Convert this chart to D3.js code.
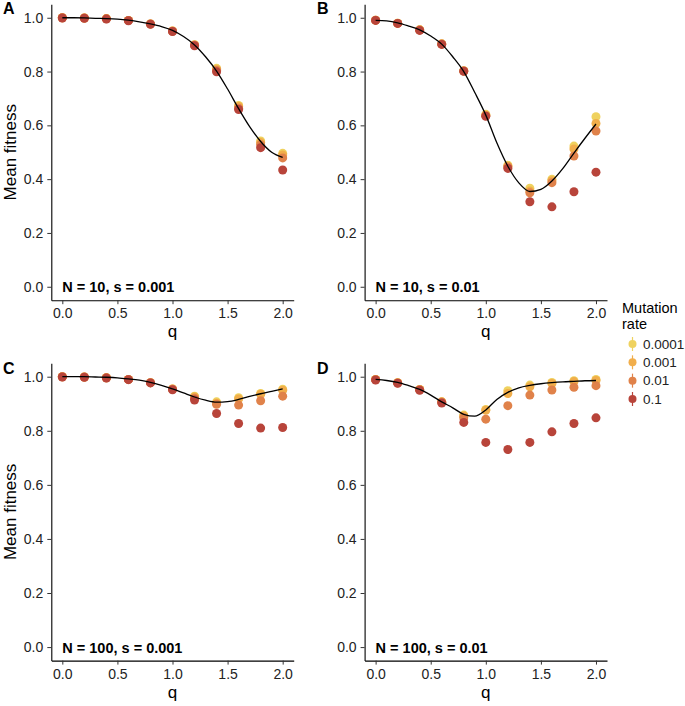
<!DOCTYPE html>
<html>
<head>
<meta charset="utf-8">
<script src="https://cdn.jsdelivr.net/npm/d3@7"></script>
<style>
  html, body { margin: 0; padding: 0; background: #fff; }
  svg { display: block; font-family: "Liberation Sans", Arial, Helvetica, sans-serif; }
</style>
</head>
<body>
<svg id="chart" width="685" height="706"></svg>
<script>
// ---- data ----
const qValues = [0, 0.2, 0.4, 0.6, 0.8, 1.0, 1.2, 1.4, 1.6, 1.8, 2.0];
const curveQ = [0,0.1,0.2,0.3,0.4,0.5,0.6,0.7,0.8,0.9,1.0,1.1,1.2,1.3,1.4,1.5,1.6,1.7,1.8,1.9,2.0];
const mutationRates = ["0.0001", "0.001", "0.01", "0.1"];
const rateColors = ["#EFD25F", "#F1AE4B", "#E0824A", "#B8443A"];
const yTicks = [0, 0.2, 0.4, 0.6, 0.8, 1.0];
const xTicks = [0, 0.5, 1.0, 1.5, 2.0];

// Panel A: N = 10, s = 0.001
const panelA_mu0001 = [1.000, 0.999, 0.997, 0.990, 0.977, 0.951, 0.900, 0.812, 0.674, 0.542, 0.496];
const panelA_mu001  = [1.000, 0.999, 0.997, 0.990, 0.977, 0.951, 0.899, 0.808, 0.670, 0.536, 0.490];
const panelA_mu01   = [1.000, 0.999, 0.996, 0.990, 0.977, 0.950, 0.898, 0.804, 0.664, 0.528, 0.479];
const panelA_mu1    = [0.999, 0.998, 0.995, 0.989, 0.976, 0.949, 0.896, 0.799, 0.659, 0.517, 0.434];
const panelA_curve  = [1.000, 1.000, 0.9995, 0.998, 0.997, 0.995, 0.991, 0.985, 0.977, 0.967, 0.953, 0.930, 0.899, 0.855, 0.802, 0.735, 0.662, 0.595, 0.540, 0.500, 0.481];

// Panel B: N = 10, s = 0.01
const panelB_mu0001 = [0.991, 0.980, 0.955, 0.903, 0.803, 0.641, 0.452, 0.366, 0.400, 0.523, 0.632];
const panelB_mu001  = [0.991, 0.980, 0.955, 0.902, 0.802, 0.638, 0.448, 0.356, 0.394, 0.512, 0.607];
const panelB_mu01   = [0.991, 0.979, 0.954, 0.902, 0.802, 0.636, 0.445, 0.349, 0.387, 0.486, 0.579];
const panelB_mu1    = [0.990, 0.979, 0.953, 0.901, 0.801, 0.634, 0.440, 0.316, 0.297, 0.353, 0.426];
const panelB_curve  = [0.990, 0.988, 0.981, 0.969, 0.955, 0.932, 0.902, 0.855, 0.800, 0.722, 0.638, 0.535, 0.448, 0.386, 0.354, 0.362, 0.393, 0.440, 0.497, 0.552, 0.605];

// Panel C: N = 100, s = 0.001
const panelC_mu0001 = [1.000, 0.999, 0.996, 0.990, 0.978, 0.955, 0.928, 0.907, 0.922, 0.938, 0.954];
const panelC_mu001  = [1.000, 0.999, 0.996, 0.990, 0.978, 0.955, 0.925, 0.902, 0.918, 0.935, 0.950];
const panelC_mu01   = [1.000, 0.999, 0.996, 0.990, 0.978, 0.954, 0.920, 0.898, 0.895, 0.911, 0.928];
const panelC_mu1    = [0.999, 0.998, 0.995, 0.989, 0.977, 0.952, 0.914, 0.864, 0.827, 0.810, 0.812];
const panelC_curve  = [1.000, 1.000, 1.000, 0.999, 0.998, 0.996, 0.992, 0.987, 0.979, 0.968, 0.955, 0.940, 0.925, 0.913, 0.906, 0.908, 0.916, 0.927, 0.937, 0.946, 0.955];

// Panel D: N = 100, s = 0.01
const panelD_mu0001 = [0.990, 0.978, 0.953, 0.907, 0.858, 0.879, 0.948, 0.969, 0.979, 0.985, 0.990];
const panelD_mu001  = [0.990, 0.978, 0.953, 0.907, 0.855, 0.876, 0.938, 0.963, 0.975, 0.982, 0.986];
const panelD_mu01   = [0.989, 0.977, 0.952, 0.906, 0.848, 0.843, 0.893, 0.932, 0.951, 0.961, 0.967];
const panelD_mu1    = [0.988, 0.976, 0.950, 0.903, 0.831, 0.757, 0.731, 0.757, 0.796, 0.827, 0.848];
const panelD_curve  = [0.990, 0.986, 0.979, 0.967, 0.953, 0.932, 0.907, 0.885, 0.861, 0.854, 0.877, 0.916, 0.942, 0.959, 0.968, 0.974, 0.978, 0.981, 0.983, 0.985, 0.986];

const panelLetters = ["A", "B", "C", "D"];
const panelLabels = ["N = 10, s = 0.001", "N = 10, s = 0.01", "N = 100, s = 0.001", "N = 100, s = 0.01"];
const panelSeries = [
  [panelA_mu0001, panelA_mu001, panelA_mu01, panelA_mu1],
  [panelB_mu0001, panelB_mu001, panelB_mu01, panelB_mu1],
  [panelC_mu0001, panelC_mu001, panelC_mu01, panelC_mu1],
  [panelD_mu0001, panelD_mu001, panelD_mu01, panelD_mu1]
];
const panelCurves = [panelA_curve, panelB_curve, panelC_curve, panelD_curve];

// ---- layout ----
const colX = [[51.3, 293.7], [364.6, 607.0]];
const rowY = [[4.3, 300.2], [363.2, 660.6]];

const svg = d3.select("#chart");
const textColor = "#222222";

panelLetters.forEach((letter, i) => {
  const col = i % 2, row = Math.floor(i / 2);
  const x = d3.scaleLinear().domain([-0.1, 2.1]).range(colX[col]);
  const y = d3.scaleLinear().domain([-0.05, 1.05]).range([rowY[row][1], rowY[row][0]]);
  const g = svg.append("g");

  // axes
  const yAxis = d3.axisLeft(y).tickValues(yTicks).tickFormat(d3.format(".1f"))
    .tickSize(4).tickPadding(4).tickSizeOuter(0);
  const xAxis = d3.axisBottom(x).tickValues(xTicks).tickFormat(d3.format(".1f"))
    .tickSize(4).tickPadding(4).tickSizeOuter(0);
  const ya = g.append("g").attr("transform", `translate(${colX[col][0]},0)`).call(yAxis);
  const xa = g.append("g").attr("transform", `translate(0,${rowY[row][1]})`).call(xAxis);
  [ya, xa].forEach(a => {
    a.select(".domain").attr("stroke", "#000").attr("stroke-width", 1.1);
    a.selectAll(".tick line").attr("stroke", "#333").attr("stroke-width", 1);
    a.selectAll(".tick text").attr("fill", textColor).style("font-size", "14px")
      .style("font-family", "'Liberation Sans', Arial, sans-serif");
  });

  // points (lowest rate first, highest on top)
  panelSeries[i].forEach((vals, k) => {
    g.append("g").selectAll("circle").data(vals).join("circle")
      .attr("cx", (d, j) => x(qValues[j]))
      .attr("cy", d => y(d))
      .attr("r", 4.5)
      .attr("fill", rateColors[k]);
  });

  // theory curve
  const line = d3.line().x((d, j) => x(curveQ[j])).y(d => y(d)).curve(d3.curveMonotoneX);
  g.append("path").datum(panelCurves[i]).attr("d", line)
    .attr("fill", "none").attr("stroke", "#000").attr("stroke-width", 1.3);

  // annotation
  g.append("text").attr("x", x(0)).attr("y", y(0) + 5.5)
    .style("font-size", "14.5px").style("font-weight", "bold").attr("fill", "#000")
    .text(panelLabels[i]);

  // panel letter
  g.append("text").attr("x", col === 0 ? 3 : 317).attr("y", row === 0 ? 14 : 374)
    .style("font-size", "16px").style("font-weight", "bold").attr("fill", "#000")
    .text(letter);

  // x title
  g.append("text").attr("x", (colX[col][0] + colX[col][1]) / 2).attr("y", rowY[row][1] + 37)
    .attr("text-anchor", "middle").style("font-size", "17px").attr("fill", "#000").text("q");

  // y title
  if (col === 0) {
    const cy = (rowY[row][0] + rowY[row][1]) / 2;
    g.append("text").attr("transform", `translate(15.5,${cy}) rotate(-90)`)
      .attr("text-anchor", "middle").style("font-size", "17px").attr("fill", "#000")
      .text("Mean fitness");
  }
});

// ---- legend ----
const leg = svg.append("g");
leg.append("text").attr("x", 622).attr("y", 313).style("font-size", "14.5px").attr("fill", "#000").text("Mutation");
leg.append("text").attr("x", 622).attr("y", 328.5).style("font-size", "14.5px").attr("fill", "#000").text("rate");
const legY = d3.scalePoint().domain(mutationRates).range([344, 399]);
mutationRates.forEach((r, k) => {
  const cy = legY(r);
  leg.append("line").attr("x1", 632.5).attr("x2", 632.5).attr("y1", cy - 7).attr("y2", cy + 7)
    .attr("stroke", rateColors[k]).attr("stroke-width", 1.2);
  leg.append("circle").attr("cx", 632.5).attr("cy", cy).attr("r", 4).attr("fill", rateColors[k]);
  leg.append("text").attr("x", 643).attr("y", cy + 4.7).style("font-size", "13.5px").attr("fill", textColor).text(r);
});
</script>
</body>
</html>
